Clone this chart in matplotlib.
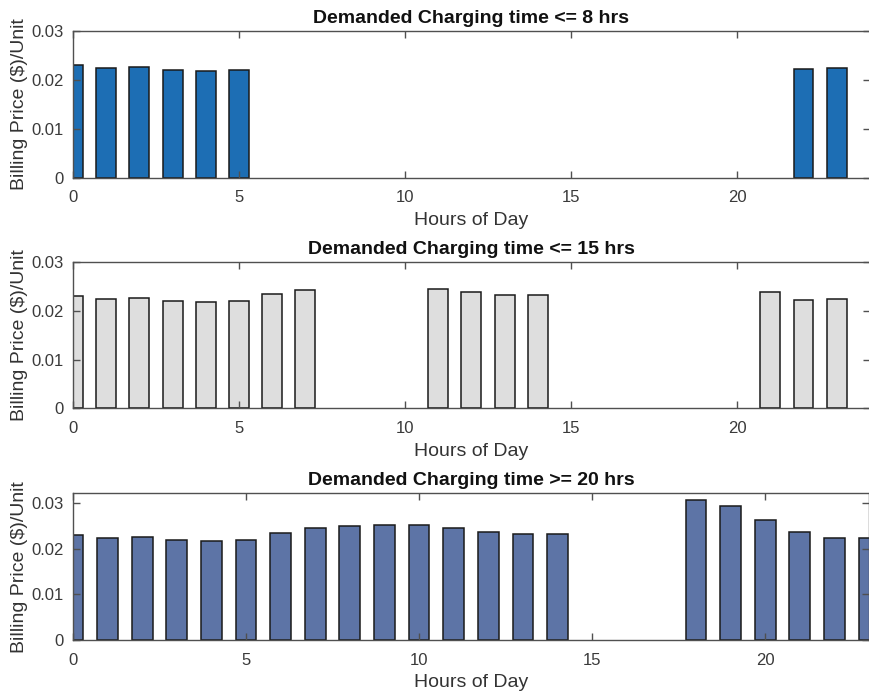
import matplotlib
matplotlib.use("Agg")
import matplotlib.pyplot as plt

plt.rcParams['font.family'] = ['Liberation Sans', 'DejaVu Sans']

# billing price per hour, one list per charging-time group
hours_8 = [0, 1, 2, 3, 4, 5, 22, 23]
price_8 = [0.0231, 0.0224, 0.0226, 0.0220, 0.0218, 0.0220, 0.0222, 0.0224]

hours_15 = [0, 1, 2, 3, 4, 5, 6, 7, 11, 12, 13, 14, 21, 22, 23]
price_15 = [0.0231, 0.0224, 0.0226, 0.0220, 0.0218, 0.0220, 0.0234, 0.0244,
            0.0246, 0.0238, 0.0232, 0.0233, 0.0238, 0.0222, 0.0224]

hours_20 = [0, 1, 2, 3, 4, 5, 6, 7, 8, 9, 10, 11, 12, 13, 14, 18, 19, 20, 21, 22, 23]
price_20 = [0.0230, 0.0223, 0.0226, 0.0220, 0.0217, 0.0220, 0.0234, 0.0245,
            0.0250, 0.0253, 0.0253, 0.0246, 0.0238, 0.0233, 0.0233,
            0.0307, 0.0293, 0.0263, 0.0238, 0.0223, 0.0224]

titles = ['Demanded Charging time <= 8 hrs',
          'Demanded Charging time <= 15 hrs',
          'Demanded Charging time >= 20 hrs']
colors = ['#1d6eb4', '#dedede', '#5d74a6']

fig = plt.figure(figsize=(8.69, 6.99), dpi=100)

panels = [
    # rect, xmax, ymax
    ([0.084, 0.7454, 0.917, 0.2103], 24, 0.03),
    ([0.084, 0.4159, 0.917, 0.2089], 24, 0.03),
    ([0.084, 0.0844, 0.916, 0.2099], 23, 0.0322),
]
data = [(hours_8, price_8), (hours_15, price_15), (hours_20, price_20)]

spine_col = '#505050'
for (rect, xmax, ymax), (hrs, vals), title, col in zip(panels, data, titles, colors):
    ax = fig.add_axes(rect)
    ax.bar(hrs, vals, width=0.6, color=col, edgecolor='#1a1a1a', linewidth=1.1)
    ax.set_xlim(0, xmax)
    ax.set_ylim(0, ymax)
    ax.set_xticks([0, 5, 10, 15, 20])
    ax.set_yticks([0, 0.01, 0.02, 0.03])
    ax.set_yticklabels(['0', '0.01', '0.02', '0.03'])
    ax.tick_params(direction='in', length=5, width=1, top=True, right=True,
                   colors=spine_col, labelcolor='#3a3a3a', labelsize=12)
    ax.tick_params(axis='x', pad=9)
    ax.tick_params(axis='y', pad=7)
    for s in ax.spines.values():
        s.set_color(spine_col)
        s.set_linewidth(1)
    ax.set_title(title, fontsize=14, fontweight='bold', color='#111111', pad=6)
    ax.set_xlabel('Hours of Day', fontsize=14, color='#333333', labelpad=5)
    ax.set_ylabel('Billing Price ($)/Unit', fontsize=14, color='#333333', labelpad=2)

fig.savefig('out.png', dpi=100)
